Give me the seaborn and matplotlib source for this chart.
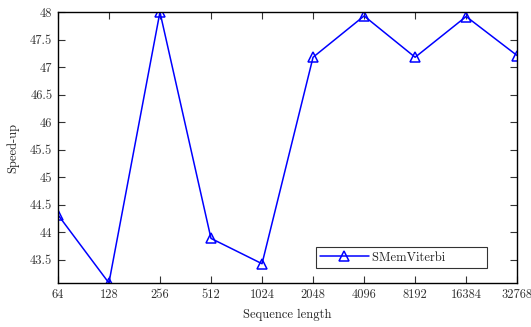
import matplotlib
matplotlib.use("Agg")
import matplotlib.pyplot as plt
import seaborn as sns
import pandas as pd

seq_lengths = ["64", "128", "256", "512", "1024", "2048", "4096", "8192", "16384", "32768"]
speedup = [44.32, 43.08, 48.0, 43.89, 43.43, 47.18, 47.93, 47.18, 47.92, 47.21]
y_ticks = [43.5, 44, 44.5, 45, 45.5, 46, 46.5, 47, 47.5, 48]
series_name = "SMemViterbi"

sns.set_theme(style="white")
plt.rcParams["font.family"] = ["cmr10", "DejaVu Serif"]
plt.rcParams["axes.formatter.use_mathtext"] = True
plt.rcParams["mathtext.fontset"] = "cm"

df = pd.DataFrame({"Sequence length": seq_lengths, "Speed-up": speedup})

fig = plt.figure(figsize=(5.31, 3.27), dpi=100)
ax = fig.add_axes([0.109, 0.1346, 0.865, 0.8284])

sns.lineplot(data=df, x="Sequence length", y="Speed-up", sort=False, ax=ax,
             color="#0000ff", linewidth=1.1, marker="^", markersize=7,
             markerfacecolor="none", markeredgecolor="#0000ff",
             markeredgewidth=1.1, label=series_name)

ax.set_xlim(0, len(seq_lengths) - 1)
ax.set_ylim(min(speedup), max(speedup))
ax.set_yticks(y_ticks)
ax.set_yticklabels([f"{t:g}" for t in y_ticks])

ax.tick_params(direction="in", length=5, width=0.8, top=True, right=True,
               bottom=True, left=True, labelsize=9, colors="#333333",
               labelcolor="#333333", pad=4)
for s in ax.spines.values():
    s.set_color("black")
    s.set_linewidth(1.0)

ax.set_xlabel("Sequence length", fontsize=9, color="#222222", labelpad=6)
ax.set_ylabel("Speed-up", fontsize=9, color="#222222", labelpad=8)

leg = ax.legend(loc="lower right", bbox_to_anchor=(0.9346, 0.055),
                fontsize=9, frameon=True, fancybox=False, borderpad=0.35,
                handlelength=3.9, handletextpad=0.3, borderaxespad=0)
leg.get_frame().set_edgecolor("black")
leg.get_frame().set_linewidth(0.8)
for t in leg.get_texts():
    t.set_color("#222222")
    t.set_text(series_name + " " * 9)

fig.savefig("out.png", dpi=100)
